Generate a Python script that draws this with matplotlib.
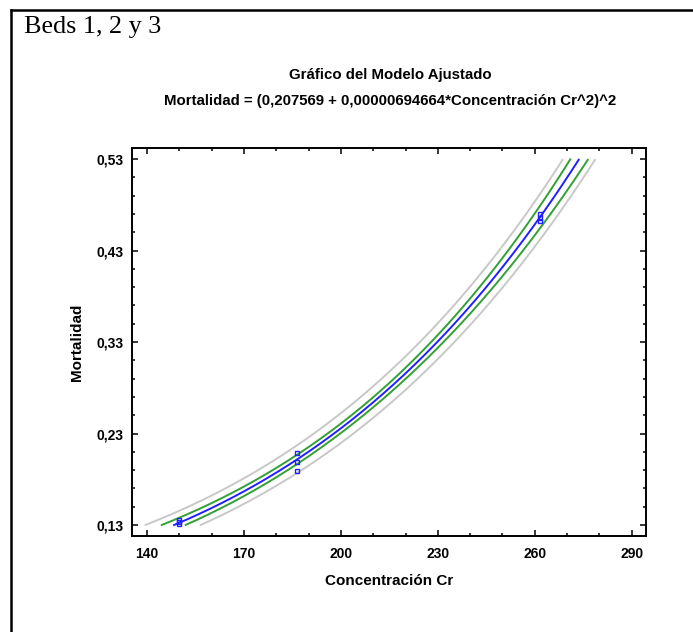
import numpy as np
import matplotlib
matplotlib.use('Agg')
import matplotlib.pyplot as plt
from matplotlib.ticker import MultipleLocator, FixedLocator, FixedFormatter

# observaciones
conc = [150, 150, 150, 186.5, 186.5, 186.5, 261.5, 261.5, 261.5]
mort = [0.135, 0.133, 0.131, 0.209, 0.199, 0.189, 0.470, 0.466, 0.462]

# modelo ajustado: Mortalidad = (a + b*Concentracion^2)^2
coef_a = 0.207569
coef_b = 0.00000694664
t_val = 2.365  # t(0.975, gl=7)

x_ticks = [140, 170, 200, 230, 260, 290]
x_tick_labels = ['140', '170', '200', '230', '260', '290']
y_ticks = [0.13, 0.23, 0.33, 0.43, 0.53]
y_tick_labels = ['0,13', '0,23', '0,33', '0,43', '0,53']

title = 'Gráfico del Modelo Ajustado'
subtitle = 'Mortalidad = (0,207569 + 0,00000694664*Concentración Cr^2)^2'


def bands(xx):
    """ajuste y limites (confianza / prediccion) en escala raiz"""
    u = np.asarray(conc) ** 2
    r = np.sqrt(mort) - (coef_a + coef_b * u)
    n = len(u)
    s = np.sqrt(np.sum(r ** 2) / (n - 2))
    ubar = u.mean()
    suu = np.sum((u - ubar) ** 2)
    uu = xx ** 2
    fit = coef_a + coef_b * uu
    h = 1.0 / n + (uu - ubar) ** 2 / suu
    ci = t_val * s * np.sqrt(h)
    pi = t_val * s * np.sqrt(1 + h)
    return fit, ci, pi


def clip(v, lo=0.13, hi=0.53):
    v = np.array(v, dtype=float)
    v[(v < lo) | (v > hi)] = np.nan
    return v


fig = plt.figure(figsize=(6.93, 6.32), dpi=100)
ax = fig.add_axes([0.1905, 0.1519, 0.7417, 0.6139])

xx = np.linspace(135, 295, 800)
fit, ci, pi = bands(xx)

ax.plot(xx, clip((fit + pi) ** 2), color='#c8c8c8', lw=1.4)
ax.plot(xx, clip((fit - pi) ** 2), color='#c8c8c8', lw=1.4)
ax.plot(xx, clip((fit + ci) ** 2), color='#33a033', lw=1.4)
ax.plot(xx, clip((fit - ci) ** 2), color='#33a033', lw=1.4)
ax.plot(xx, clip(fit ** 2), color='#2020ff', lw=1.4)
ax.plot(conc, mort, 's', mfc='none', mec='#2020ff', ms=3.2, mew=1.0)

ax.set_xlim(135.4, 294.4)
ax.set_ylim(0.118, 0.542)

ax.xaxis.set_major_locator(FixedLocator(x_ticks))
ax.xaxis.set_major_formatter(FixedFormatter(x_tick_labels))
ax.xaxis.set_minor_locator(MultipleLocator(10))
ax.yaxis.set_major_locator(FixedLocator(y_ticks))
ax.yaxis.set_major_formatter(FixedFormatter(y_tick_labels))
ax.yaxis.set_minor_locator(FixedLocator(np.arange(0.13, 0.54, 0.02)))

ax.tick_params(which='both', direction='in', top=True, right=True, width=1.1)
ax.tick_params(which='major', length=4.5)
ax.tick_params(axis='x', which='major', pad=8)
ax.tick_params(axis='y', which='major', pad=6)
ax.tick_params(which='minor', length=2.2)
for lab in ax.get_xticklabels() + ax.get_yticklabels():
    lab.set_fontfamily('Liberation Sans')
    lab.set_fontweight('bold')
    lab.set_fontsize(10)
for sp in ax.spines.values():
    sp.set_linewidth(1.4)

ax.set_xlabel('Concentración Cr', family='Liberation Sans', weight='bold', fontsize=11, labelpad=9)
ax.set_ylabel('Mortalidad', family='Liberation Sans', weight='bold', fontsize=11, labelpad=9)

fig.text(0.563, 1 - 75 / 632, title, ha='center', va='center',
         family='Liberation Sans', weight='bold', fontsize=10.8)
fig.text(0.563, 1 - 101 / 632, subtitle, ha='center', va='center',
         family='Liberation Sans', weight='bold', fontsize=10.8)
fig.text(24 / 693, 1 - 27 / 632, 'Beds 1, 2 y 3', ha='left', va='center',
         family='Liberation Serif', fontsize=18.8)

# borde de la celda (solo arriba e izquierda visibles)
fig.add_artist(plt.Line2D([10.5 / 693, 1], [1 - 9.5 / 632, 1 - 9.5 / 632], color='black', lw=1.8))
fig.add_artist(plt.Line2D([10.5 / 693, 10.5 / 693], [0, 1 - 9.5 / 632], color='black', lw=1.8))

fig.savefig('out.png', dpi=100)
